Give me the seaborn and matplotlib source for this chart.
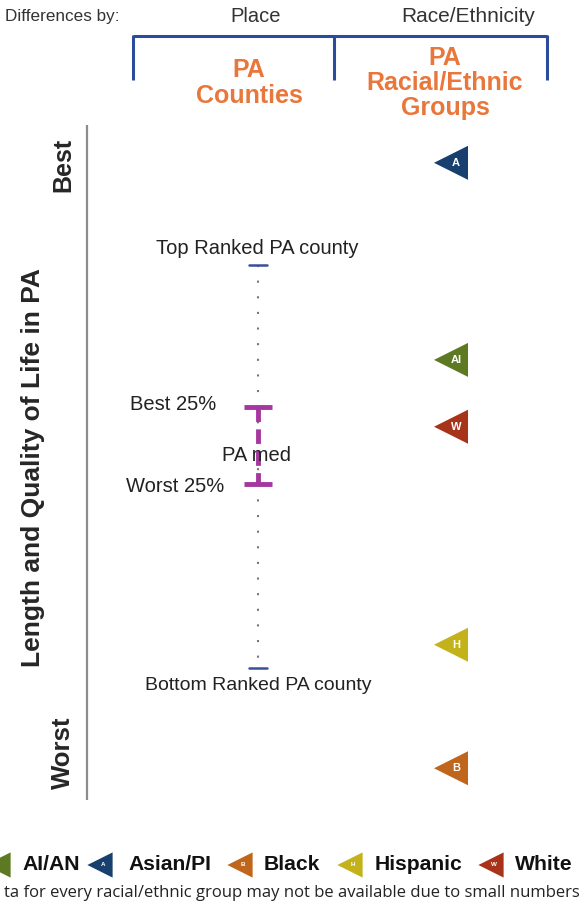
import matplotlib
matplotlib.use("Agg")
import matplotlib.pyplot as plt
import seaborn as sns
import pandas as pd

# ---- Data ----
# positions on a 0 (best) .. 100 (worst) scale
groups = ["Asian/PI", "AI/AN", "White", "Hispanic", "Black"]
letters = ["A", "AI", "W", "H", "B"]
group_pos = [5.6, 34.8, 44.7, 77.0, 95.3]
group_colors = ["#17406f", "#5d7a22", "#a8331b", "#c4b21a", "#c0651c"]

county_labels = ["Top Ranked PA county", "Best 25%", "PA med", "Worst 25%", "Bottom Ranked PA county"]
county_pos = [20.7, 41.8, 47.4, 53.2, 80.4]

legend_order = ["AI/AN", "Asian/PI", "Black", "Hispanic", "White"]
legend_letters = ["", "A", "B", "H", "W"]

sns.set_style("white")
plt.rcParams["font.family"] = ["Liberation Sans", "DejaVu Sans"]

W, H = 584, 911
fig = plt.figure(figsize=(W / 100, H / 100), dpi=100)

# overlay for header / legend in pixel coordinates
lax = fig.add_axes([0, 0, 1, 1])

# main data axes: y 0..100 maps to pixel rows 125..800
top_px, bot_px = 125, 800
ax = fig.add_axes([0, (H - bot_px) / H, 1, (bot_px - top_px) / H])

# ---- header ----
hc = "#333333"
lax.text(5, 17, "Differences by:", fontsize=12.3, color=hc, va="center")
lax.text(256, 17, "Place", fontsize=14.5, color=hc, va="center", ha="center")
lax.text(468, 17, "Race/Ethnicity", fontsize=15, color=hc, va="center", ha="center")
blue = "#2b4c9b"
lax.plot([133, 547], [36, 36], color=blue, lw=2.2, solid_capstyle="butt")
for xb in [133, 334, 547]:
    lax.plot([xb, xb], [35, 80], color=blue, lw=2.2, solid_capstyle="butt")
orange = "#e9763a"
lax.text(249, 83, "PA\nCounties", color=orange, fontsize=18, fontweight="bold",
         ha="center", va="center", linespacing=1.1)
lax.text(445, 83, "PA\nRacial/Ethnic\nGroups", color=orange, fontsize=18, fontweight="bold",
         ha="center", va="center", linespacing=1.05)

# ---- left axis ----
ax.plot([87, 87], [0, 100], color="#8c8c8c", lw=1.6)
ax.text(63, 5.9, "Best", rotation=90, fontsize=18, fontweight="bold", ha="center", va="center")
ax.text(63, 93.0, "Worst", rotation=90, fontsize=18.5, fontweight="bold", ha="center", va="center")
ax.text(33, 50.8, "Length and Quality of Life in PA", rotation=90, fontsize=19,
        fontweight="bold", ha="center", va="center")

# ---- county distribution ----
cx = 258
tc = "#222222"
ax.plot([cx, cx], [county_pos[0], county_pos[4]], color="#777777", lw=1.5,
        linestyle=(0, (1, 6.5)))
for p in [county_pos[0], county_pos[4]]:
    ax.plot([cx - 9, cx + 9], [p, p], color="#3a4f9a", lw=1.8)
purple = "#a5379f"
for p in [county_pos[1], county_pos[3]]:
    ax.plot([cx - 14, cx + 14], [p, p], color=purple, lw=3.5, solid_capstyle="butt")
ax.plot([cx, cx], [county_pos[1], county_pos[3]], color=purple, lw=3.5,
        linestyle=(0, (3, 1.5)))
ax.text(cx - 1, county_pos[0] - 2.4, county_labels[0], fontsize=14.5, color=tc,
        ha="center", va="center")
ax.text(130, county_pos[1] - 0.4, county_labels[1], fontsize=14.5, color=tc, va="center")
ax.text(cx - 1, county_pos[2] + 1.5, county_labels[2], fontsize=14.5, color=tc,
        ha="center", va="center")
ax.text(126, county_pos[3] + 0.4, county_labels[3], fontsize=14.5, color=tc, va="center")
ax.text(cx, county_pos[4] + 2.6, county_labels[4], fontsize=14, color=tc,
        ha="center", va="center")

# ---- racial/ethnic group markers ----
df = pd.DataFrame({"group": groups, "letter": letters, "pos": group_pos})
df["x"] = 451
sns.scatterplot(data=df, x="x", y="pos", hue="group", palette=dict(zip(groups, group_colors)),
                marker="<", s=600, linewidth=0, legend=False, ax=ax)
for _, r in df.iterrows():
    ax.text(r["x"] + 5, r["pos"], r["letter"], color="white", fontsize=8, fontweight="bold",
            ha="center", va="center")
ax.set_xlim(0, W)
ax.set_ylim(100, 0)
ax.axis("off")

# ---- legend ----
leg_tri_x = [-2, 100, 240, 350, 491]
leg_text_x = [22, 128, 264, 375, 515]
cmap = dict(zip(groups, group_colors))
leg = pd.DataFrame({"group": legend_order, "x": leg_tri_x, "y": [865] * 5})
sns.scatterplot(data=leg, x="x", y="y", hue="group", palette=cmap, marker="<", s=330,
                linewidth=0, legend=False, ax=lax)
for lt, tri, tx, g in zip(legend_letters, leg_tri_x, leg_text_x, legend_order):
    if lt:
        lax.text(tri + 3, 865, lt, fontsize=4.5, fontweight="bold", color="white",
                 ha="center", va="center")
    lax.text(tx, 865, g, fontsize=15.2, fontweight="bold", color="#111111", va="center")
lax.set_xlim(0, W)
lax.set_ylim(H, 0)
lax.axis("off")

# footnote: the left part of the sentence is cut off in the source image
fig.text(4 / W, 1 - 893 / H,
         "ta for every racial/ethnic group may not be available due to small numbers",
         fontsize=11.95, color=tc, ha="left", va="center", family=["Open Sans", "DejaVu Sans"])

fig.savefig("out.png", dpi=100)
